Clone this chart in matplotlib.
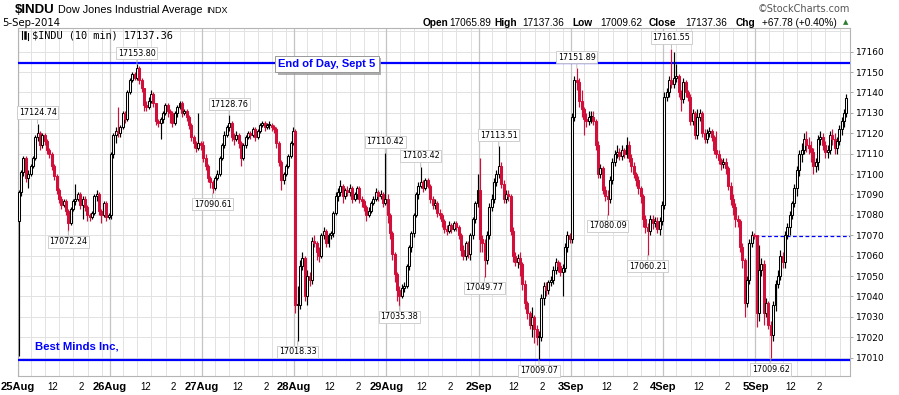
import numpy as np
import matplotlib.pyplot as plt
from matplotlib.patches import Rectangle
from matplotlib import patheffects

W, H = 899, 395

days = ['25Aug', '26Aug', '27Aug', '28Aug', '29Aug', '2Sep', '3Sep', '4Sep', '5Sep']
bars_per_day = 39

# 10 min closes, one row per session
closes = [
    [17091, 17101, 17108, 17098, 17100, 17104, 17108, 17118, 17120, 17114, 17119, 17116, 17112, 17110, 17104, 17099, 17092, 17088, 17085, 17087,
     17082, 17076, 17083, 17087, 17088, 17090, 17085, 17088, 17084, 17080, 17079, 17081, 17089, 17090, 17082, 17080, 17086, 17079, 17080],
    [17110, 17119, 17121, 17120, 17123, 17130, 17127, 17140, 17146, 17149, 17147, 17152, 17146, 17142, 17134, 17133, 17136, 17139, 17135, 17126,
     17125, 17127, 17130, 17134, 17131, 17130, 17125, 17130, 17133, 17135, 17130, 17131, 17128, 17124, 17118, 17115, 17113, 17115, 17114],
    [17108, 17104, 17098, 17096, 17093, 17098, 17100, 17108, 17114, 17119, 17123, 17125, 17118, 17117, 17119, 17115, 17108, 17114, 17118, 17120,
     17119, 17122, 17118, 17121, 17124, 17125, 17123, 17124, 17124, 17123, 17122, 17115, 17106, 17097, 17100, 17104, 17109, 17115, 17121],
    [17036, 17036, 17055, 17059, 17040, 17050, 17048, 17067, 17066, 17062, 17060, 17070, 17072, 17066, 17070, 17071, 17081, 17089, 17091, 17094,
     17089, 17092, 17091, 17093, 17088, 17090, 17093, 17088, 17087, 17084, 17080, 17082, 17086, 17088, 17091, 17089, 17090, 17086, 17088],
    [17080, 17071, 17061, 17051, 17043, 17040, 17044, 17045, 17055, 17064, 17071, 17080, 17090, 17094, 17096, 17093, 17097, 17094, 17088, 17085,
     17086, 17081, 17080, 17077, 17073, 17072, 17075, 17073, 17076, 17074, 17070, 17063, 17060, 17066, 17061, 17070, 17078, 17086, 17092],
    [17068, 17066, 17058, 17070, 17084, 17088, 17096, 17100, 17104, 17095, 17088, 17090, 17089, 17072, 17060, 17057, 17059, 17056, 17046, 17037,
     17032, 17026, 17030, 17024, 17020, 17020, 17039, 17045, 17043, 17047, 17048, 17053, 17057, 17055, 17052, 17054, 17064, 17070, 17068],
    [17128, 17146, 17145, 17136, 17132, 17127, 17126, 17128, 17128, 17126, 17114, 17100, 17103, 17092, 17089, 17088, 17097, 17106, 17110, 17111,
     17109, 17112, 17110, 17114, 17108, 17104, 17100, 17097, 17093, 17089, 17078, 17074, 17072, 17078, 17076, 17077, 17073, 17077, 17085],
    [17138, 17140, 17146, 17144, 17147, 17148, 17140, 17137, 17145, 17140, 17138, 17126, 17130, 17119, 17128, 17130, 17120, 17117, 17120, 17121,
     17118, 17112, 17110, 17107, 17105, 17106, 17103, 17094, 17088, 17084, 17078, 17077, 17064, 17058, 17037, 17048, 17066, 17070, 17069.58],
    [17032, 17053, 17056, 17032, 17037, 17026, 17021, 17036, 17046, 17050, 17060, 17057, 17070, 17074, 17080, 17086, 17093, 17102, 17110, 17112,
     17117, 17114, 17113, 17111, 17104, 17106, 17117, 17118, 17114, 17111, 17112, 17119, 17117, 17113, 17116, 17122, 17126, 17130, 17137.36],
]

highs = [
    [17092, 17102, 17109, 17109, 17102, 17105, 17109, 17119, 17124.74, 17121, 17120, 17120, 17117, 17113, 17111, 17105, 17100, 17093, 17089, 17088,
     17088, 17083, 17084, 17088, 17095, 17091, 17091, 17089, 17089, 17085, 17081, 17082, 17090, 17092, 17091, 17083, 17087, 17087, 17081],
    [17111, 17120, 17123, 17133, 17124, 17131, 17131, 17141, 17147, 17150, 17150, 17153.80, 17153, 17147, 17142, 17136, 17138, 17141, 17140, 17135,
     17127, 17128, 17131, 17135, 17135, 17132, 17131, 17131, 17134, 17136, 17136, 17132, 17132, 17129, 17125, 17119, 17116, 17130, 17116],
    [17116, 17110, 17105, 17099, 17097, 17099, 17102, 17109, 17115, 17121, 17124, 17128.76, 17126, 17120, 17121, 17120, 17116, 17115, 17119, 17121,
     17121, 17123, 17123, 17122, 17125, 17126, 17126, 17125, 17126, 17125, 17124, 17123, 17116, 17107, 17101, 17105, 17110, 17116, 17123],
    [17122, 17045, 17058, 17062, 17060, 17053, 17052, 17069, 17070, 17067, 17064, 17071, 17074, 17073, 17071, 17072, 17082, 17091, 17093, 17097,
     17095, 17093, 17094, 17095, 17094, 17091, 17094, 17094, 17089, 17088, 17085, 17084, 17087, 17089, 17093, 17092, 17092, 17091, 17110.42],
    [17090, 17081, 17072, 17062, 17052, 17045, 17046, 17047, 17056, 17065, 17072, 17081, 17091, 17096, 17103.42, 17097, 17098, 17098, 17095, 17089,
     17088, 17087, 17083, 17081, 17078, 17075, 17077, 17076, 17077, 17077, 17075, 17071, 17065, 17067, 17067, 17071, 17079, 17087, 17100],
    [17108, 17070, 17068, 17072, 17086, 17090, 17098, 17102, 17113.51, 17106, 17097, 17092, 17092, 17090, 17074, 17062, 17061, 17062, 17057, 17048,
     17038, 17033, 17035, 17031, 17026, 17023, 17041, 17047, 17047, 17048, 17050, 17055, 17059, 17058, 17057, 17056, 17066, 17072, 17071],
    [17130, 17148, 17151.89, 17147, 17141, 17133, 17130, 17131, 17131, 17131, 17127, 17116, 17105, 17104, 17094, 17092, 17099, 17108, 17112, 17114,
     17113, 17114, 17113, 17118, 17116, 17110, 17106, 17101, 17099, 17094, 17090, 17080, 17076, 17080, 17080, 17079, 17079, 17079, 17087],
    [17140, 17142, 17148, 17161.55, 17160, 17154, 17149, 17141, 17147, 17146, 17141, 17139, 17132, 17131, 17132, 17132, 17131, 17122, 17122, 17123,
     17122, 17119, 17121, 17112, 17108, 17108, 17108, 17104, 17096, 17090, 17086, 17080, 17078, 17066, 17059, 17050, 17068, 17072, 17071],
    [17070, 17065, 17059, 17058, 17039, 17038, 17028, 17038, 17048, 17053, 17063, 17062, 17072, 17076, 17082, 17087, 17095, 17104, 17112, 17115,
     17120, 17121, 17118, 17116, 17113, 17108, 17119, 17121, 17120, 17116, 17114, 17121, 17122, 17120, 17118, 17124, 17128, 17132, 17139],
]

lows = [
    [17011, 17089, 17099, 17096, 17093, 17099, 17103, 17107, 17116, 17112, 17113, 17114, 17110, 17108, 17102, 17097, 17090, 17086, 17083, 17084,
     17080, 17072.24, 17075, 17082, 17085, 17087, 17083, 17078, 17082, 17077, 17077, 17078, 17080, 17087, 17080, 17076, 17079, 17077, 17078],
    [17078, 17108, 17115, 17118, 17118, 17122, 17125, 17126, 17139, 17145, 17146, 17146, 17144, 17140, 17131, 17131, 17132, 17135, 17133, 17124,
     17123, 17117, 17125, 17129, 17128, 17125, 17123, 17124, 17128, 17132, 17128, 17129, 17126, 17122, 17116, 17113, 17111, 17112, 17112],
    [17106, 17102, 17096, 17093, 17090.61, 17092, 17097, 17099, 17107, 17113, 17118, 17121, 17116, 17114, 17116, 17113, 17104, 17107, 17113, 17117,
     17117, 17118, 17116, 17117, 17120, 17123, 17121, 17122, 17122, 17121, 17120, 17113, 17104, 17092, 17095, 17099, 17103, 17108, 17114],
    [17032, 17018.33, 17034, 17053, 17038, 17036, 17045, 17046, 17064, 17058, 17057, 17059, 17068, 17064, 17064, 17068, 17069, 17080, 17087, 17089,
     17086, 17088, 17089, 17089, 17086, 17087, 17088, 17086, 17084, 17082, 17077, 17079, 17081, 17085, 17087, 17087, 17088, 17084, 17085],
    [17076, 17068, 17058, 17047, 17038, 17035.38, 17039, 17042, 17044, 17053, 17062, 17069, 17079, 17088, 17093, 17091, 17092, 17093, 17086, 17083,
     17083, 17079, 17078, 17074, 17071, 17070, 17071, 17071, 17072, 17072, 17068, 17060, 17058, 17058, 17059, 17058, 17068, 17076, 17084],
    [17062, 17062, 17049.77, 17056, 17068, 17082, 17086, 17094, 17098, 17093, 17086, 17086, 17087, 17070, 17057, 17055, 17054, 17050, 17043, 17034,
     17029, 17024, 17020, 17017, 17016, 17009.07, 17018, 17036, 17040, 17041, 17045, 17046, 17051, 17052, 17050, 17040, 17052, 17062, 17066],
    [17066, 17126, 17141, 17133, 17128, 17119, 17123, 17124, 17125, 17124, 17112, 17098, 17098, 17090, 17087, 17080.09, 17086, 17095, 17104, 17108,
     17107, 17107, 17108, 17108, 17106, 17101, 17098, 17094, 17090, 17086, 17074, 17071, 17060.21, 17070, 17073, 17074, 17071, 17070, 17075],
    [17083, 17136, 17138, 17142, 17142, 17145, 17138, 17131, 17135, 17138, 17136, 17124, 17124, 17117, 17117, 17126, 17118, 17115, 17115, 17118,
     17116, 17110, 17108, 17105, 17102, 17103, 17100, 17092, 17085, 17080, 17074, 17074, 17062, 17054, 17030, 17035, 17046, 17064, 17068],
    [17025, 17028, 17050, 17026, 17030, 17024, 17009.62, 17018, 17033, 17044, 17048, 17054, 17054, 17068, 17070, 17078, 17084, 17089, 17099, 17106,
     17110, 17111, 17110, 17106, 17100, 17101, 17102, 17114, 17112, 17108, 17108, 17110, 17114, 17110, 17110, 17114, 17119, 17123, 17128],
]

# first open of each session, later bars open at the prior close
day_opens = [17077, 17080, 17114, 17121, 17088, 17092, 17068, 17085, 17070]

# labelled highs/lows: (session, bar, kind)
marks = [(0, 8, 'high'), (0, 21, 'low'), (1, 11, 'high'), (2, 4, 'low'), (2, 11, 'high'),
         (3, 1, 'low'), (3, 38, 'high'), (4, 5, 'low'), (4, 14, 'high'), (5, 2, 'low'),
         (5, 8, 'high'), (5, 25, 'low'), (6, 2, 'high'), (6, 15, 'low'), (6, 32, 'low'),
         (7, 3, 'high'), (8, 6, 'low')]

upper_level = 17154.6
lower_level = 17009.0
prev_close = 17069.58

header_vals = ['17065.89', '17137.36', '17009.62', '17137.36', '+67.78 (+0.40%)']

c = np.concatenate(closes)
h = np.concatenate(highs)
l = np.concatenate(lows)
o = np.concatenate([[day_opens[d]] + closes[d][:-1] for d in range(len(days))])
n = len(c)

RED = '#d0103a'
BLUE = '#0000ff'

fig = plt.figure(figsize=(W / 100, H / 100), dpi=100)
ax = fig.add_axes([17.5 / W, (H - 376) / H, (850 - 17.5) / W, (376 - 28) / H])
ax.set_xlim(0, 352)
ax.set_ylim(17001.0, 17171.6)

# grid
for y in range(17010, 17171, 10):
    ax.axhline(y, color='#e2e2e2', lw=0.7, zorder=0)
for d in range(len(days)):
    ax.axvline(d * bars_per_day, color='#c4c4c4', lw=0.9, zorder=0)
    for j in range(1, 7):
        ax.axvline(d * bars_per_day + 6 * j - 0.4, color='#e2e2e2', lw=0.7, zorder=0)

ax.axhline(upper_level, color=BLUE, lw=1.6, zorder=3)
ax.axhline(lower_level, color=BLUE, lw=1.6, zorder=3)
ax.hlines(prev_close, 8 * bars_per_day, 352, colors=BLUE, linestyles=(0, (3, 2)), lw=0.9, zorder=3)

# candles
for i in range(n):
    x = i + 0.5
    ref = o[i] if i == 0 else c[i - 1]
    col = 'black' if c[i] >= ref else RED
    ax.vlines(x, l[i], h[i], color=col, lw=0.85, zorder=4)
    lo, hi = min(o[i], c[i]), max(o[i], c[i])
    hollow = c[i] > o[i]
    ax.add_patch(Rectangle((x - 0.42, lo), 0.84, max(hi - lo, 0.5),
                           facecolor='white' if hollow else col, edgecolor=col, lw=0.75, zorder=5))

# value labels
for d, b, kind in marks:
    i = d * bars_per_day + b
    v = h[i] if kind == 'high' else l[i]
    dy = 8 if kind == 'high' else -8
    ax.annotate(f'{v:.2f}', xy=(i + 0.5, v), xytext=(0, dy), textcoords='offset points',
                ha='center', va='center', fontsize=5.8, family='DejaVu Sans', zorder=7,
                bbox=dict(boxstyle='square,pad=0.2', fc='white', ec='#c8c8c8', lw=0.6),
                arrowprops=dict(arrowstyle='-', color='#b0b0b0', lw=0.6, shrinkA=0, shrinkB=0))

# End of Day box with drop shadow
eod = ax.text(0.313, 0.8966, 'End of Day, Sept 5', transform=ax.transAxes, fontsize=8, weight='bold',
              family='Liberation Sans', color=BLUE, va='center', ha='left', zorder=9,
              bbox=dict(boxstyle='square,pad=0.3', fc='white', ec='#999999', lw=0.7))
eod.get_bbox_patch().set_path_effects([
    patheffects.SimplePatchShadow(offset=(2, -2), shadow_rgbFace='#9a9a9a', alpha=0.8),
    patheffects.Normal()])

ax.text(0.021, 0.086, 'Best Minds Inc,', transform=ax.transAxes, fontsize=8.2, weight='bold',
        family='Liberation Sans', color=BLUE, va='center', ha='left', zorder=9)

# axes styling
for s in ax.spines.values():
    s.set_color('#b4b4b4')
    s.set_linewidth(0.8)
ax.yaxis.tick_right()
ax.set_yticks(range(17010, 17161, 10))
ax.tick_params(axis='y', length=2, width=0.6, color='#999999', pad=2, labelsize=6.5)
for t in ax.get_yticklabels():
    t.set_family('DejaVu Sans')

xt, xl = [], []
for d, name in enumerate(days):
    xt += [d * bars_per_day, d * bars_per_day + 15, d * bars_per_day + 27]
    xl += [name, '12', '2']
ax.set_xticks(xt)
ax.set_xticklabels(xl)
ax.tick_params(axis='x', length=0, pad=4)
for t in ax.get_xticklabels():
    t.set_family('Liberation Sans')
    if t.get_text() in days:
        t.set_weight('bold')
        t.set_fontsize(8)
    else:
        t.set_fontsize(7)


def ftext(x, y, s, **kw):
    fig.text(x / W, 1 - y / H, s, va='center', **kw)


# legend row inside the plot
ftext(32, 35, '$INDU (10 min) 17137.36', family='DejaVu Sans Mono', fontsize=7.4)
fig.add_artist(plt.Line2D([22 / W, 22 / W], [1 - 39 / H, 1 - 31 / H], color='black', lw=0.8))
fig.add_artist(plt.Line2D([25 / W, 25 / W], [1 - 38 / H, 1 - 32 / H], color='black', lw=1.8))
fig.add_artist(plt.Line2D([28 / W, 28 / W], [1 - 40 / H, 1 - 33 / H], color='black', lw=0.8))

# header
ftext(15, 10, '$INDU', family='Liberation Sans', weight='bold', fontsize=9.5)
ftext(58, 10, 'Dow Jones Industrial Average', family='Liberation Sans', fontsize=7.8)
ftext(206, 10.5, 'INDX', family='Liberation Sans', fontsize=6.5)
ftext(2, 23, '5-Sep-2014', family='DejaVu Sans', fontsize=7.3)
ftext(850, 9, '\u00a9StockCharts.com', family='DejaVu Sans', fontsize=7, color='#555555', ha='right')

heads = ['Open', 'High', 'Low', 'Close', 'Chg']
head_x = [423, 494, 572, 649, 736]
val_x = [449, 522, 600, 685, 762]
for name, hx, vx, val in zip(heads, head_x, val_x, header_vals):
    ftext(hx, 23, name, family='Liberation Sans', weight='bold', fontsize=7.3)
    ftext(vx, 23, val, family='Liberation Sans', fontsize=7.2)
ftext(846, 22.5, '\u25b2', family='DejaVu Sans', fontsize=5, color='#2e7d32', ha='center')

fig.savefig('out.png', dpi=100)
